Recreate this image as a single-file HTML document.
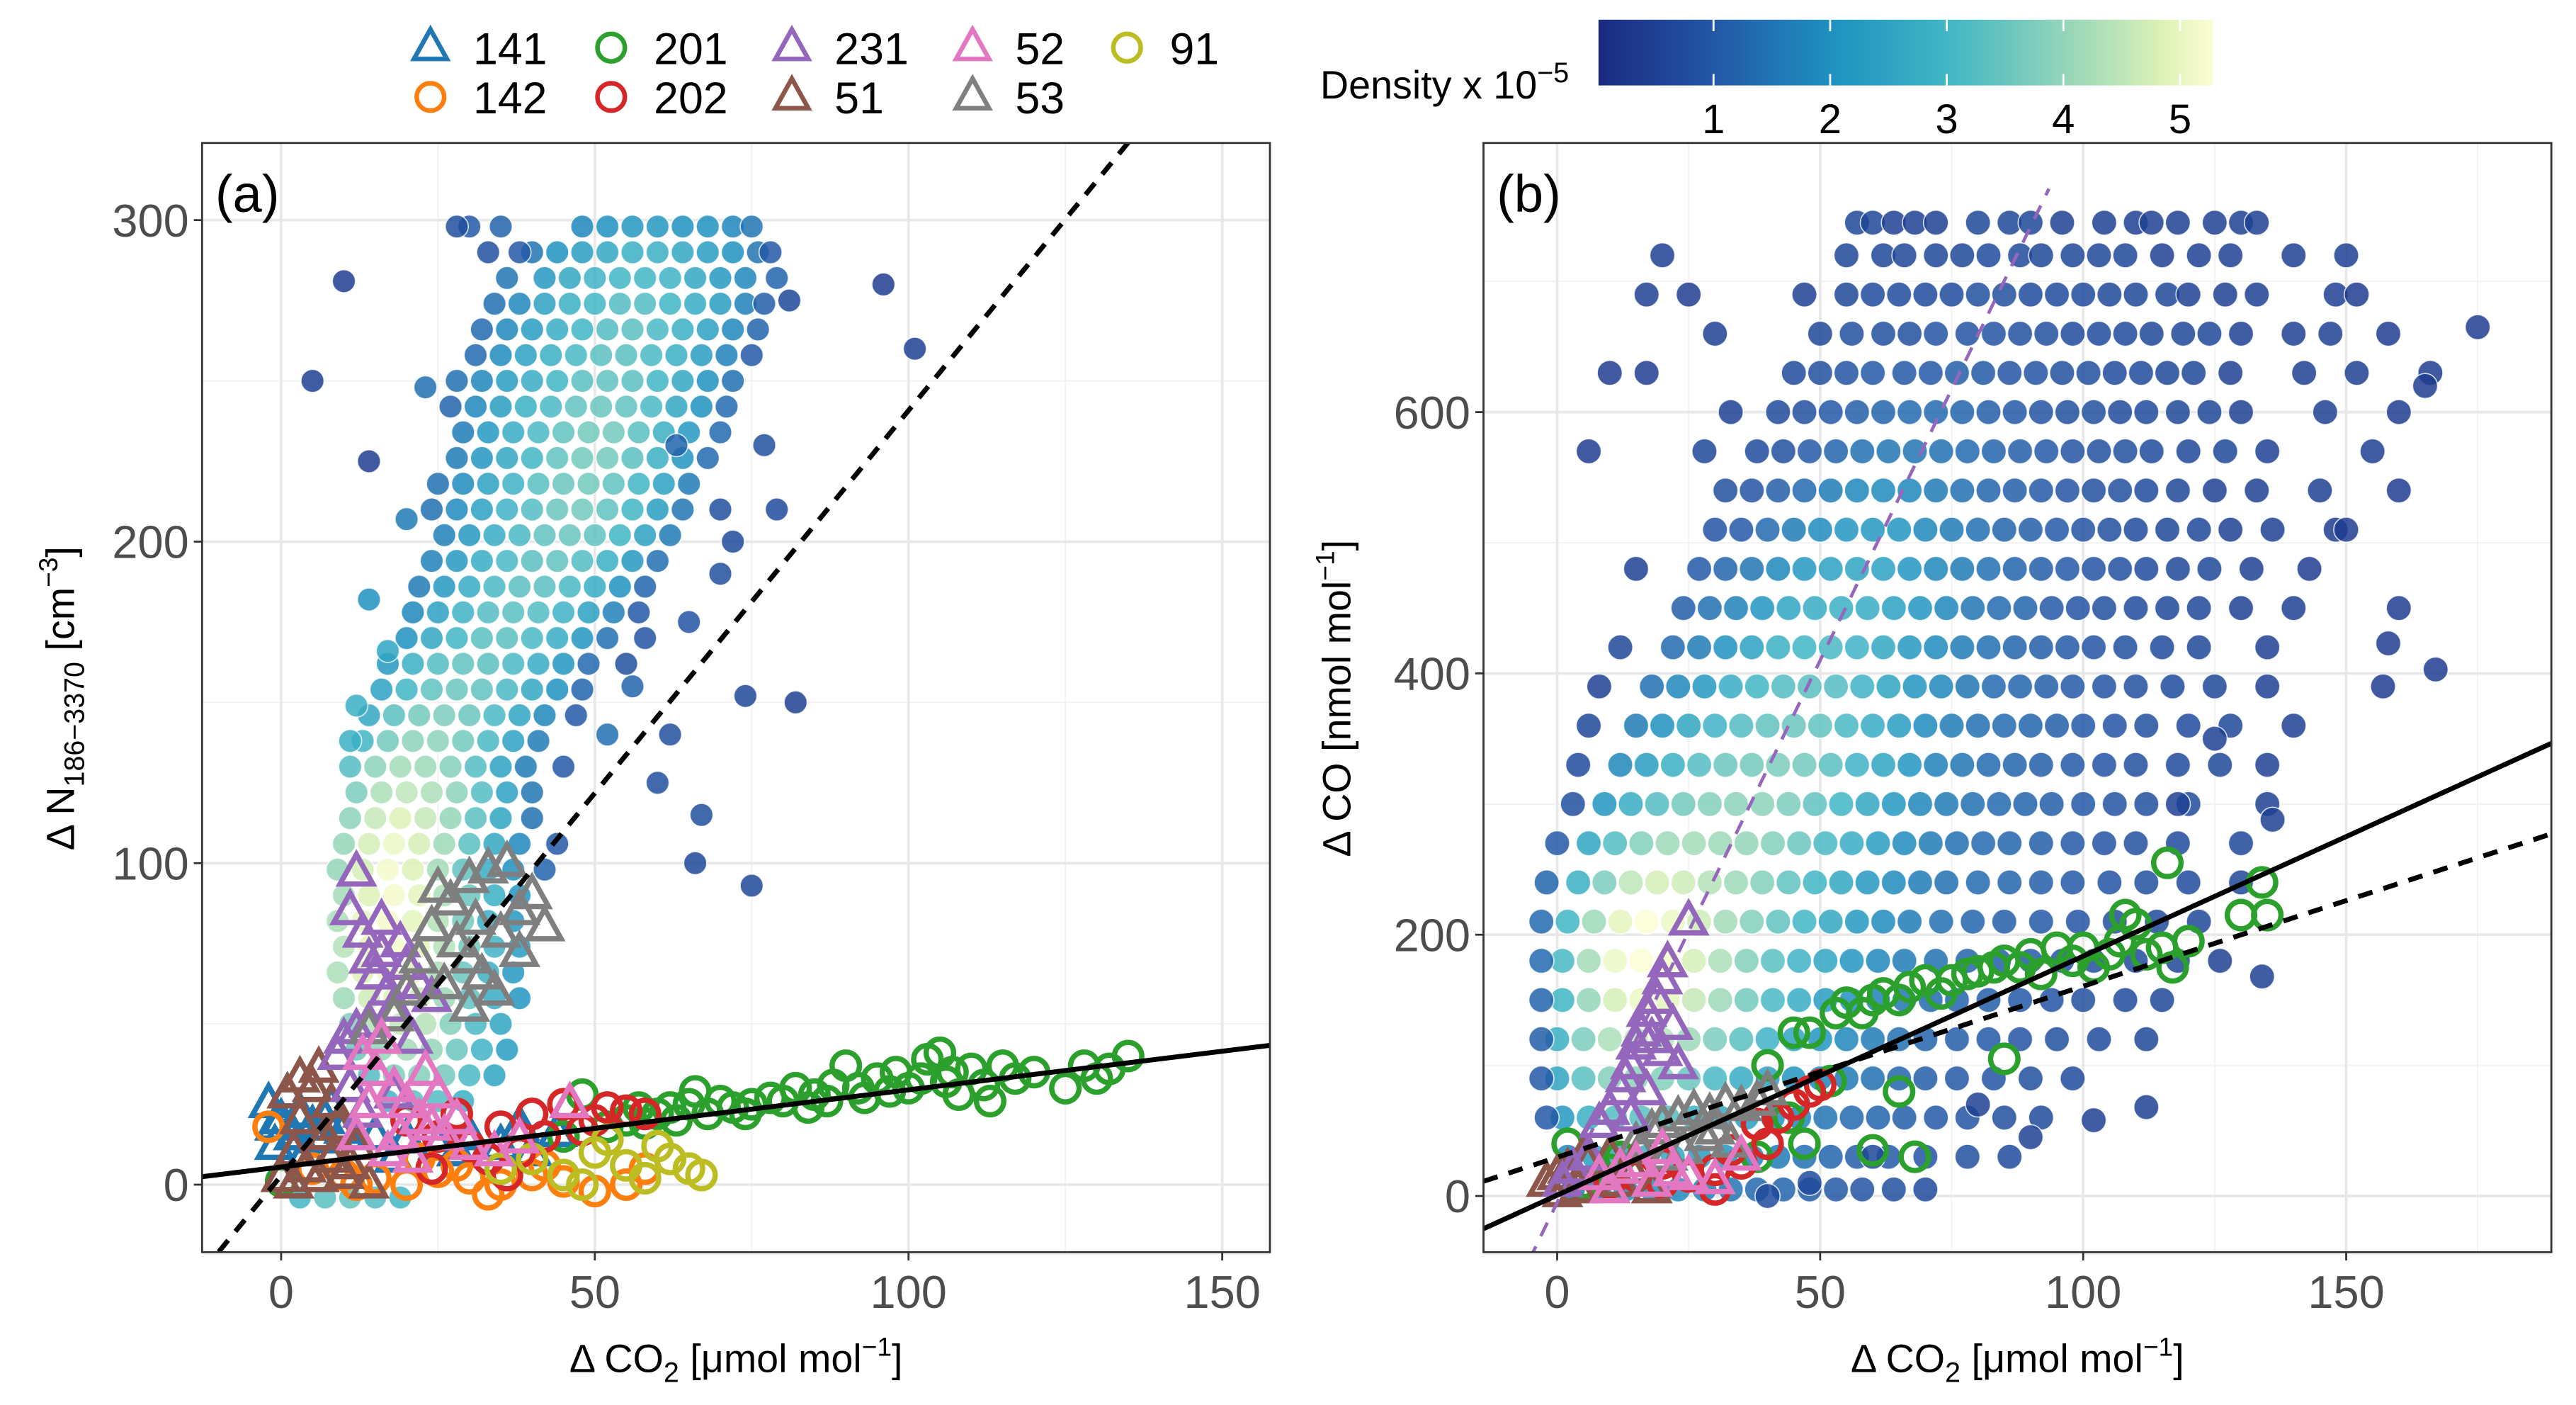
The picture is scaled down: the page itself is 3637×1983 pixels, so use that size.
<!DOCTYPE html>
<html><head><meta charset="utf-8"><style>
html,body{margin:0;padding:0;background:#fff;}
svg{display:block;font-family:"Liberation Sans",Arial,sans-serif;}
</style></head><body>
<svg id="chart" width="3637" height="1983" viewBox="0 0 1568 855" preserveAspectRatio="none" xmlns="http://www.w3.org/2000/svg">
<defs>
<linearGradient id="cbar" x1="0" x2="1" y1="0" y2="0">
<stop offset="0" stop-color="#1a2a80"/><stop offset="0.19" stop-color="#2358a6"/><stop offset="0.38" stop-color="#1e91c0"/><stop offset="0.57" stop-color="#41b6c4"/><stop offset="0.76" stop-color="#94d5b9"/><stop offset="0.92" stop-color="#def2b7"/><stop offset="1" stop-color="#fbfdd4"/>
</linearGradient>
<clipPath id="clipA"><rect x="123" y="87" width="650" height="675"/></clipPath>
<clipPath id="clipB"><rect x="903" y="87" width="650" height="675"/></clipPath>
</defs>
<g id="legend"></g>
<g id="colorbar">
<text x="955" y="60" font-size="24" text-anchor="end" fill="#000">Density x 10<tspan dy="-10" font-size="17">−5</tspan></text>
<rect x="973" y="12" width="374" height="40" fill="url(#cbar)"/>
</g>
<g id="panelA"></g>
<g id="panelB"></g>
</svg>
<script>
// ---------- DATA ----------
const cbTicks = [1,2,3,4,5];
const aXTicks = [0,50,100,150];
const aYTicks = [0,100,200,300];
const bXTicks = [0,50,100,150];
const bYTicks = [0,200,400,600];
const legendLabels = ['141','201','231','52','91','142','202','51','53'];
const cloudA = [
"298:48/1.8,52/2,56/2.2,60/2.2,64/2,68/2,72/1.8,75/1.5,30/1,35/1.2",
"290:40/1.5,44/2,48/2.3,52/2.6,56/2.8,60/2.8,64/2.6,68/2.3,72/2,76/1.5,78/1,38/1",
"282:36/1.5,42/2.2,46/2.6,50/2.9,54/3,58/3,62/2.9,66/2.6,70/2.2,74/1.8,79/1.2",
"274:34/1.4,38/1.8,42/2.4,46/2.8,50/3,54/3.2,58/3.2,62/3,66/2.7,70/2.3,74/1.7,77/1.1",
"266:32/1.3,36/1.8,40/2.3,44/2.7,48/3,52/3.2,56/3.3,60/3.1,64/2.8,68/2.4,72/1.8,76/1.2",
"258:31/1.3,35/1.9,39/2.4,43/2.8,47/3.1,51/3.3,55/3.3,59/3.1,63/2.8,67/2.3,71/1.7,75/1",
"250:28/1.4,32/1.8,36/2.3,40/2.7,44/3,48/3.3,52/3.4,56/3.3,60/3,64/2.6,68/2,72/1.4",
"242:27/1.2,31/1.8,35/2.3,39/2.8,43/3.1,47/3.4,51/3.5,55/3.4,59/3.1,63/2.6,67/2,71/1.3",
"234:29/1.6,33/2.2,37/2.7,41/3.1,45/3.4,49/3.6,53/3.6,57/3.3,61/2.8,65/2.2,70/1.3",
"226:28/1.6,32/2.1,36/2.6,40/3,44/3.4,48/3.6,52/3.6,56/3.3,60/2.8,64/2.1,68/1.3",
"218:25/1.4,29/1.9,33/2.4,37/2.9,41/3.3,45/3.5,49/3.6,53/3.4,57/3,61/2.4,65/1.6",
"210:24/1.4,28/1.9,32/2.4,36/2.9,40/3.2,44/3.5,48/3.6,52/3.4,56/3,60/2.3,64/1.5,70/0.8",
"202:26/1.7,30/2.2,34/2.7,38/3.1,42/3.4,46/3.5,50/3.4,54/3,58/2.4,62/1.6",
"194:24/1.7,28/2.2,32/2.7,36/3.1,40/3.3,44/3.4,48/3.2,52/2.8,56/2.2,60/1.4",
"186:22/1.6,26/2.2,30/2.7,34/3.1,38/3.3,42/3.3,46/3.1,50/2.7,54/2,58/1.2",
"178:21/1.8,25/2.4,29/2.9,33/3.2,37/3.3,41/3.2,45/2.9,49/2.4,53/1.7,57/1",
"170:20/2,24/2.6,28/3,32/3.3,36/3.3,40/3.1,44/2.7,48/2.1,52/1.4",
"162:17/2.2,21/2.8,25/3.2,29/3.4,33/3.3,37/3.1,41/2.7,45/2.1,49/1.3,55/0.8",
"154:16/2.4,20/3,24/3.4,28/3.5,32/3.4,36/3.1,40/2.6,44/2,48/1.2",
"146:14/2.6,18/3.3,22/3.6,26/3.7,30/3.5,34/3.1,38/2.5,42/1.8,47/1",
"138:13/3,17/3.6,21/3.9,25/3.9,29/3.6,33/3.1,37/2.4,41/1.6",
"130:11/3.2,15/3.9,19/4.2,23/4.1,27/3.8,31/3.2,35/2.4,39/1.6,45/1",
"122:12/3.7,16/4.3,20/4.5,24/4.3,28/3.9,32/3.2,36/2.4,40/1.5",
"114:11/3.9,15/4.6,19/4.9,23/4.6,27/4,31/3.3,35/2.5,40/1.4",
"106:10/4,14/4.8,18/5.1,22/4.8,26/4.1,30/3.3,34/2.6,38/1.8,44/1",
"98:9/4,13/4.8,17/5.2,21/4.9,25/4.2,29/3.4,33/2.7,37/2,42/1.2",
"90:10/4.2,14/4.9,18/5.2,22/5,26/4.3,30/3.5,34/2.8,38/2.1",
"82:9/4.3,13/5,17/5.2,21/5,25/4.4,29/3.6,33/2.8,37/2.2",
"74:10/4.4,14/5,18/5.2,22/5,26/4.4,30/3.6,34/2.9,38/2.3",
"66:9/4.3,13/4.9,17/5.1,21/4.9,25/4.3,29/3.5,33/2.8,37/2.2",
"58:10/4.1,14/4.7,18/4.9,22/4.7,26/4.1,30/3.4,34/2.7,38/2.1",
"50:11/3.8,15/4.4,19/4.6,23/4.4,27/3.8,31/3.1,35/2.5",
"42:12/3.5,16/4,20/4.2,24/4,28/3.5,32/2.9,36/2.3",
"34:14/3.2,18/3.7,22/3.8,26/3.6,30/3.1,34/2.5",
"26:17/3,21/3.3,25/3.2,29/2.8",
"-4:3/3,7/3.3,11/3.4,15/3.2,19/3"
];
const outliersA = "10,281,0.4;5,250,0.5;14,225,0.4;96,280,0.4;101,260,0.5;82,150,0.5;75,93,0.6;66,100,0.6;74,152,0.6;67,115,0.8;60,125,0.8;62,140,0.8;58,170,0.9;65,175,0.9;70,190,0.8;72,200,0.7;79,210,0.7;81,275,0.6;77,230,0.8;28,298,0.8;33,290,0.8;12,149,2.8;11,138,2.8;14,182,2;17,166,2.5;20,207,1.6;23,248,1.4;63,230,1.2;56,155,1.2;52,140,1.4";
const cloudB = [
"745:57/0.6,60/0.6,64/0.5,68/0.5,72/0.5,80/0.6,86/0.6,90/0.6,96/0.5,104/0.5,110/0.5,113/0.5,118/0.5,125/0.5,130/0.5,133/0.5",
"720:55/0.6,62/0.6,66/0.6,72/0.6,77/0.6,82/0.7,88/0.7,92/0.6,98/0.6,103/0.6,108/0.6,115/0.5,122/0.5,128/0.5,140/0.5,150/0.5,20/0.5",
"690:55/0.6,60/0.7,65/0.7,70/0.7,75/0.7,80/0.8,85/0.8,90/0.7,95/0.7,100/0.7,105/0.6,110/0.6,116/0.6,120/0.5,127/0.5,133/0.5,148/0.5,25/0.4,17/0.5,47/0.5",
"660:50/0.6,56/0.8,62/0.8,67/0.8,72/0.9,78/0.9,83/0.9,88/0.8,93/0.8,98/0.7,103/0.7,108/0.7,113/0.6,119/0.6,124/0.6,130/0.5,140/0.5,147/0.5,158/0.4,30/0.5",
"630:45/0.7,50/0.8,55/0.9,60/1,66/1,71/1,76/1.1,81/1,86/0.9,91/0.9,96/0.8,101/0.8,106/0.7,111/0.7,116/0.6,121/0.6,128/0.5,142/0.5,152/0.5,166/0.4,10/0.4,17/0.4",
"600:42/0.7,47/0.8,52/1,57/1.1,62/1.2,67/1.3,72/1.3,77/1.2,82/1.1,87/1,92/0.9,97/0.8,102/0.8,107/0.7,112/0.7,118/0.6,124/0.6,130/0.5,146/0.5,160/0.4,33/0.5",
"570:38/0.7,43/0.8,48/1,53/1.2,58/1.4,63/1.5,68/1.5,73/1.4,78/1.3,83/1.2,88/1.1,93/1,98/0.9,103/0.8,108/0.8,113/0.7,120/0.6,127/0.6,135/0.5,155/0.5,28/0.6,6/0.4",
"540:32/0.8,37/0.9,42/1.1,47/1.3,52/1.6,57/1.8,62/1.9,67/1.8,72/1.6,77/1.4,82/1.2,87/1.1,92/1,97/0.9,102/0.8,107/0.8,112/0.7,118/0.6,125/0.5,133/0.5,145/0.5,160/0.4",
"510:30/0.9,35/1,40/1.3,45/1.6,50/1.9,55/2.1,60/2.2,65/2.1,70/1.8,75/1.6,80/1.4,85/1.2,90/1.1,95/1,100/0.9,105/0.8,110/0.7,116/0.6,122/0.6,128/0.5,136/0.5,148/0.4",
"480:27/1,32/1.2,37/1.5,42/1.8,47/2.2,52/2.4,57/2.5,62/2.4,67/2.1,72/1.8,77/1.6,82/1.4,87/1.2,92/1.1,97/1,102/0.9,107/0.8,112/0.7,118/0.6,124/0.6,132/0.5,143/0.4,15/0.5",
"450:24/1.1,29/1.4,34/1.7,39/2.1,44/2.5,49/2.7,54/2.8,59/2.7,64/2.4,69/2.1,74/1.8,79/1.5,84/1.3,89/1.2,94/1,99/0.9,104/0.8,110/0.7,116/0.6,122/0.6,130/0.5,140/0.5,160/0.4",
"420:22/1.3,27/1.6,32/2,37/2.4,42/2.8,47/3,52/3.1,57/2.9,62/2.6,67/2.2,72/1.9,77/1.6,82/1.4,87/1.2,92/1.1,97/1,102/0.9,108/0.8,115/0.7,122/0.6,135/0.5,12/0.6",
"390:18/1.4,23/1.8,28/2.2,33/2.7,38/3,43/3.2,48/3.3,53/3.2,58/2.9,63/2.5,68/2.1,73/1.8,78/1.5,83/1.3,88/1.2,93/1.1,98/1,104/0.9,110/0.8,117/0.7,125/0.6,135/0.5,157/0.4,8/0.5",
"360:15/1.6,20/2,25/2.5,30/2.9,35/3.2,40/3.4,45/3.5,50/3.4,55/3.1,60/2.7,65/2.3,70/1.9,75/1.6,80/1.4,85/1.3,90/1.2,95/1.1,100/1,106/0.9,112/0.8,120/0.7,128/0.6,140/0.5,6/0.6",
"330:12/1.8,17/2.3,22/2.8,27/3.2,32/3.5,37/3.6,42/3.7,47/3.6,52/3.3,57/2.9,62/2.5,67/2.1,72/1.7,77/1.5,82/1.3,87/1.2,92/1.1,98/1,104/0.9,110/0.8,118/0.7,126/0.6,135/0.5,4/0.7",
"300:9/2.1,14/2.7,19/3.2,24/3.6,29/3.8,34/3.9,39/3.9,44/3.7,49/3.4,54/3,59/2.6,64/2.2,69/1.8,74/1.6,79/1.4,84/1.3,89/1.2,94/1.1,100/1,106/0.9,112/0.8,120/0.7,135/0.5,3/0.8",
"270:6/2.5,11/3.2,16/3.8,21/4.1,26/4.2,31/4.1,36/4,41/3.8,46/3.5,51/3.1,56/2.7,61/2.3,66/1.9,71/1.6,76/1.4,81/1.3,86/1.2,92/1.1,98/1,104/0.9,110/0.8,118/0.7,130/0.6,0/1",
"240:4/2.8,9/3.7,14/4.5,19/4.8,24/4.7,29/4.4,34/4.1,39/3.8,44/3.4,49/3,54/2.6,59/2.2,64/1.9,69/1.6,74/1.4,80/1.3,86/1.2,92/1.1,98/1,105/0.9,112/0.8,120/0.7,130/0.6,-2/1.2",
"210:2/3,7/4.1,12/5,17/5.3,22/5.1,27/4.7,32/4.2,37/3.8,42/3.4,47/3,52/2.6,57/2.2,62/1.9,67/1.6,73/1.4,79/1.2,85/1.1,92/1,99/0.9,106/0.8,114/0.7,122/0.6,-3/1.3",
"180:1/3.1,6/4.2,11/5.1,16/5.3,21/5.2,26/4.8,31/4.3,36/3.8,41/3.3,46/2.9,51/2.5,56/2.1,61/1.8,66/1.6,72/1.4,78/1.2,84/1.1,90/1,96/0.9,102/0.8,110/0.7,118/0.6,126/0.5,-3/1.3",
"150:1/3,6/4,11/4.8,16/5.1,21/5,26/4.6,31/4.1,36/3.6,41/3.1,46/2.7,51/2.3,56/2,61/1.7,66/1.5,71/1.3,76/1.2,82/1.1,88/1,94/0.9,100/0.8,108/0.7,115/0.6,-3/1.2",
"120:0/2.8,5/3.7,10/4.3,15/4.5,20/4.4,25/4.1,30/3.7,35/3.3,40/2.9,45/2.5,50/2.1,55/1.8,60/1.6,65/1.4,70/1.2,76/1.1,82/1,88/0.9,95/0.8,103/0.7,112/0.6,-3/1.1",
"90:0/2.5,5/3.3,10/3.8,15/3.9,20/3.8,25/3.5,30/3.1,35/2.7,40/2.4,45/2.1,50/1.8,55/1.6,60/1.4,65/1.2,70/1.1,76/1,83/0.9,90/0.8,98/0.7,-3/1",
"60:1/2.2,6/2.8,11/3.2,16/3.3,21/3.2,26/2.9,31/2.6,36/2.3,41/2,46/1.8,51/1.5,56/1.3,61/1.2,66/1.1,72/1,78/0.9,85/0.8,92/0.7,-2/1",
"30:2/1.8,7/2.3,12/2.6,17/2.7,22/2.6,27/2.3,32/2.1,37/1.8,42/1.6,47/1.4,52/1.2,57/1.1,63/1,70/0.9,78/0.8,86/0.7",
"5:3/1.5,8/1.8,13/2,18/2,23/1.9,28/1.7,33/1.5,38/1.3,43/1.2,48/1.1,53/1,58/0.9,64/0.8,70/0.7"
];
const outliersB = "175,665,0.4;165,620,0.4;167,403,0.4;158,423,0.4;150,510,0.4;136,288,0.5;134,168,0.5;112,68,0.5;102,58,0.5;90,45,0.5;80,70,0.5;60,30,0.6;48,10,0.7;40,0,0.7;152,690,0.4;118,300,0.5;125,350,0.5";
const a141 = "-2,25;0,20;1,28;2,15;3,22;5,18;-1,12;4,10;8,24;6,14;10,17;12,12;15,15;20,14;25,12;30,15;35,12;40,10;44,16;38,18;28,10;18,8;-1,18;7,20";
const a142 = "5,5;10,3;15,2;20,0;25,4;30,2;35,0;40,3;45,1;50,-2;55,0;22,8;28,6;12,0;-2,18;33,-3;42,6;58,5";
const a201 = "0,1;45,15;48,28;52,18;55,20;58,19;60,22;62,24;65,25;66,29;68,22;70,26;72,24;75,25;78,27;80,26;82,30;85,28;88,31;90,37;92,30;95,33;97,29;100,30;103,39;105,41;107,35;110,36;112,31;115,37;117,33;120,35;125,30;130,33;132,36;135,40;87,26;93,27;108,28;113,26;102,33;98,35;74,22;63,20;57,24;84,24;106,32;128,37";
const a202 = "20,20;25,15;30,12;35,18;40,22;45,25;50,20;52,24;55,23;42,15;38,10;33,8;48,17;28,22;58,22;24,5;36,3";
const a231 = "12,97;11,85;13,78;14,70;15,65;16,72;17,60;18,55;14,50;12,48;10,45;9,40;15,35;18,28;20,68;22,62;16,82;19,75;11,30;13,22;24,58;21,45";
const a51 = "1,28;3,33;5,30;6,36;8,25;2,10;4,5;6,2;8,8;10,3;12,12;14,0;3,20;7,15;0,2;2,0;9,18;11,6";
const a52 = "13,40;15,35;16,45;18,30;20,25;22,20;24,18;19,15;17,10;21,8;26,15;30,12;34,10;38,14;46,25;28,20;25,28;23,35;14,25;12,15";
const a53 = "25,92;27,88;30,95;33,98;36,100;38,85;40,90;42,80;28,75;30,70;32,65;34,60;30,55;26,62;22,70;20,60;35,78;38,72;24,80;31,82;14,48;18,52";
const a91 = "35,5;40,8;45,3;50,10;55,6;60,12;62,8;65,5;67,3;58,2;48,0;52,14";
const b201 = "2,40;5,10;10,20;12,30;40,100;45,125;48,125;53,140;55,148;58,140;60,150;62,155;65,150;67,160;70,165;73,155;75,165;78,170;80,172;83,175;85,180;88,175;90,185;92,170;95,190;98,180;100,190;102,175;105,185;107,195;108,215;110,208;112,185;115,190;116,255;117,175;120,195;130,215;134,240;135,215;85,105;65,80;60,35;68,30;52,88;47,40;38,30;20,10;30,20;44,60";
const b202 = "10,10;15,15;20,10;25,15;30,20;35,25;40,40;42,60;45,70;48,80;50,85;30,5;20,25;38,55;33,35";
const b231 = "25,210;21,178;20,165;19,150;17,140;16,125;15,115;14,100;13,90;12,80;18,120;22,130;23,100;10,65;8,55;6,30;3,20;1,10;14,60;17,80;20,110";
const b51 = "-2,10;0,15;2,20;4,5;6,25;8,15;10,30;12,10;14,20;16,35;18,5;1,2;5,30";
const b52 = "8,15;12,20;15,25;18,10;22,18;25,15;30,12;35,30;20,35;10,5";
const b53 = "15,40;18,50;20,55;23,60;26,65;29,62;32,70;35,68;38,72;28,45;24,35;30,50;33,40;40,80;21,30";
// Fitted lines: [intercept, slope]
const aSolid = [5.5, 0.24];
const aDash = [2.8, 2.38];
const bSolid = [0.6, 1.83];
const bDash = [29.6, 1.31];
const bPurple = [-5, 8.3];
const bPurpleMaxY = 771;

// ---------- HELPERS ----------
const NS = 'http://www.w3.org/2000/svg';
function mk(tag, attrs, parent){const e=document.createElementNS(NS,tag);for(const k in attrs)e.setAttribute(k,attrs[k]);if(parent)parent.appendChild(e);return e;}
function parsePts(s){return s.split(';').map(p=>p.split(',').map(Number));}
function parseRows(rows){const out=[];rows.forEach(r=>{const [y,rest]=r.split(':');rest.split(',').forEach(t=>{const [x,d]=t.split('/').map(Number);out.push([x,+y,d]);});});return out;}
const cstops=[[0,[26,42,128]],[1,[35,88,166]],[2,[30,145,192]],[3,[65,182,196]],[4,[148,213,185]],[4.9,[222,242,183]],[5.3,[251,253,212]]];
function dcol(d){for(let i=1;i<cstops.length;i++){if(d<=cstops[i][0]){const a=cstops[i-1],b=cstops[i];const t=Math.max(0,(d-a[0])/(b[0]-a[0]));const c=a[1].map((v,j)=>Math.round(v+(b[1][j]-v)*t));return `rgb(${c})`;}}return 'rgb(251,253,212)';}
const COL={'141':'#1f77b4','142':'#ff7f0e','201':'#2ca02c','202':'#d62728','231':'#9467bd','51':'#8c564b','52':'#e377c2','53':'#7f7f7f','91':'#bcbd22'};
const SHAPE={'141':'tri','142':'circ','201':'circ','202':'circ','231':'tri','51':'tri','52':'tri','53':'tri','91':'circ'};
function marker(parent,shape,cx,cy,col,lw,sz){
  if(shape==='tri'){const h=sz*0.9;return mk('polygon',{points:`${cx},${cy-h*0.62} ${cx-sz/2},${cy+h*0.38} ${cx+sz/2},${cy+h*0.38}`,fill:'none',stroke:col,'stroke-width':lw,'stroke-linejoin':'miter'},parent);}
  return mk('circle',{cx:cx,cy:cy,r:sz/2.4,fill:'none',stroke:col,'stroke-width':lw},parent);
}

// ---------- PANEL ----------
function panel(g,cfg){
  const {x0,x1,y0,y1,xmin,xmax,ymin,ymax,clip}=cfg;
  const sx=v=>x0+(v-xmin)/(xmax-xmin)*(x1-x0);
  const sy=v=>y1-(v-ymin)/(ymax-ymin)*(y1-y0);
  const bg=mk('rect',{x:x0,y:y0,width:x1-x0,height:y1-y0,fill:'#fff'},g);
  
  
  const grid=mk('g',{},g);
  
  
  cfg.xminor.forEach(v=>mk('line',{x1:sx(v),x2:sx(v),y1:y0,y2:y1,stroke:'#f2f2f2','stroke-width':0.8},grid));
  cfg.yminor.forEach(v=>mk('line',{y1:sy(v),y2:sy(v),x1:x0,x2:x1,stroke:'#f2f2f2','stroke-width':0.8},grid));
  cfg.xt.forEach(v=>mk('line',{x1:sx(v),x2:sx(v),y1:y0,y2:y1,stroke:'#e8e8e8','stroke-width':1.6},grid));
  cfg.yt.forEach(v=>mk('line',{y1:sy(v),y2:sy(v),x1:x0,x2:x1,stroke:'#e8e8e8','stroke-width':1.6},grid));
  const data=mk('g',{'clip-path':`url(#${clip})`},g);
  
  
  const cloud=mk('g',{},data);
  
  
  cfg.cloud.forEach(p=>{const c=mk('circle',{cx:sx(p[0]),cy:sy(p[1]),r:cfg.dotR,fill:dcol(p[2]),'fill-opacity':0.85,stroke:'#fff','stroke-width':0.7,'stroke-opacity':0.8},cloud);
    
    });
  cfg.series.forEach(([lab,str])=>{
    const sg=mk('g',{},data);
    
    
    parsePts(str).forEach(p=>{const m=marker(sg,SHAPE[lab],sx(p[0]),sy(p[1]),COL[lab],3.2,20);
      
      });
  });
  cfg.lines.forEach(([ab,col,dash,lw,nm,yEnd])=>{
    let xe=xmax;
    if(yEnd!==undefined) xe=Math.min(xmax,(yEnd-ab[0])/ab[1]);
    const l=mk('line',{x1:sx(xmin),y1:sy(ab[0]+ab[1]*xmin),x2:sx(xe),y2:sy(ab[0]+ab[1]*xe),stroke:col,'stroke-width':lw,'stroke-dasharray':dash},data);
    
    
  });
  const fr=mk('rect',{x:x0,y:y0,width:x1-x0,height:y1-y0,fill:'none',stroke:'#333','stroke-width':1.2},g);
  
  
  cfg.xt.forEach(v=>{mk('line',{x1:sx(v),x2:sx(v),y1:y1,y2:y1+5,stroke:'#333','stroke-width':1.2},g);
    const t=mk('text',{x:sx(v),y:y1+34,'font-size':28,'text-anchor':'middle',fill:'#4d4d4d'},g);t.textContent=v;
    
    });
  cfg.yt.forEach(v=>{mk('line',{x1:x0-5,x2:x0,y1:sy(v),y2:sy(v),stroke:'#333','stroke-width':1.2},g);
    const t=mk('text',{x:x0-8,y:sy(v)+10,'font-size':28,'text-anchor':'end',fill:'#4d4d4d'},g);t.textContent=v;
    
    });
  const pl=mk('text',{x:x0+8,y:y0+42,'font-size':32,fill:'#000'},g);pl.textContent=cfg.label;
  
  
}

// ---------- BUILD ----------
const gA=document.getElementById('panelA');
panel(gA,{x0:123,x1:773,y0:87,y1:762,xmin:-12.6,xmax:157.6,ymin:-21,ymax:324,clip:'clipA',label:'(a)',dotR:7,
  xt:aXTicks,yt:aYTicks,xminor:[25,75,125],yminor:[50,150,250],
  cloud:parseRows(cloudA).concat(parsePts(outliersA)),
  series:[['141',a141],['142',a142],['201',a201],['202',a202],['91',a91],['51',a51],['231',a231],['53',a53],['52',a52]],
  lines:[[aSolid,'#000','none',3,'fit-line-solid'],[aDash,'#000','9 7',3,'fit-line-dashed']]});
const gB=document.getElementById('panelB');
panel(gB,{x0:903,x1:1553,y0:87,y1:762,xmin:-14,xmax:189,ymin:-43,ymax:806,clip:'clipB',label:'(b)',dotR:7.6,
  xt:bXTicks,yt:bYTicks,xminor:[25,75,125,175],yminor:[100,300,500,700],
  cloud:parseRows(cloudB).concat(parsePts(outliersB)),
  series:[['201',b201],['202',b202],['51',b51],['53',b53],['231',b231],['52',b52]],
  lines:[[bSolid,'#000','none',3,'fit-line-solid'],[bDash,'#000','9 7',3,'fit-line-dashed'],[bPurple,'#9467bd','9 7',2,'fit-line-231',bPurpleMaxY]]});

// axis titles
const svg=document.getElementById('chart');
function ttl(x,y,rot,html,nm){const t=mk('text',{x:x,y:y,'font-size':24,'text-anchor':'middle',fill:'#000',transform:rot?`rotate(-90 ${x} ${y})`:''},svg);t.innerHTML=html;
  
  }
ttl(448,835,false,'Δ CO<tspan font-size="17" dy="6">2</tspan><tspan dy="-6"> [μmol mol</tspan><tspan font-size="16" dy="-10">−1</tspan><tspan dy="10">]</tspan>','x-axis-title-a');
ttl(1228,835,false,'Δ CO<tspan font-size="17" dy="6">2</tspan><tspan dy="-6"> [μmol mol</tspan><tspan font-size="16" dy="-10">−1</tspan><tspan dy="10">]</tspan>','x-axis-title-b');
ttl(45,425,true,'Δ N<tspan font-size="17" dy="6">186−3370</tspan><tspan dy="-6"> [cm</tspan><tspan font-size="16" dy="-10">−3</tspan><tspan dy="10">]</tspan>','y-axis-title-a');
ttl(822,425,true,'Δ CO [nmol mol<tspan font-size="16" dy="-10">−1</tspan><tspan dy="10">]</tspan>','y-axis-title-b');

// colorbar ticks
const cb=document.getElementById('colorbar');
cbTicks.forEach(v=>{const x=1043+71*(v-1);
  mk('line',{x1:x,x2:x,y1:12,y2:19,stroke:'#fff','stroke-width':1.2},cb);
  mk('line',{x1:x,x2:x,y1:45,y2:52,stroke:'#fff','stroke-width':1.2},cb);
  const t=mk('text',{x:x,y:81,'font-size':25,'text-anchor':'middle',fill:'#000'},cb);t.textContent=v;
  
  });

// legend
const lg=document.getElementById('legend');
const lgX=[262,372,482,592,686];
legendLabels.forEach((lab,i)=>{const row=i<5?0:1;const col=i<5?i:i-5;const x=lgX[col],y=row?59:29;
  const e=mk('g',{},lg);
  
  
  marker(e,SHAPE[lab],x,y,COL[lab],2.8,20);
  const t=mk('text',{x:x+26,y:y+10,'font-size':27,fill:'#000'},e);t.textContent=lab;});
</script>
</body></html>
